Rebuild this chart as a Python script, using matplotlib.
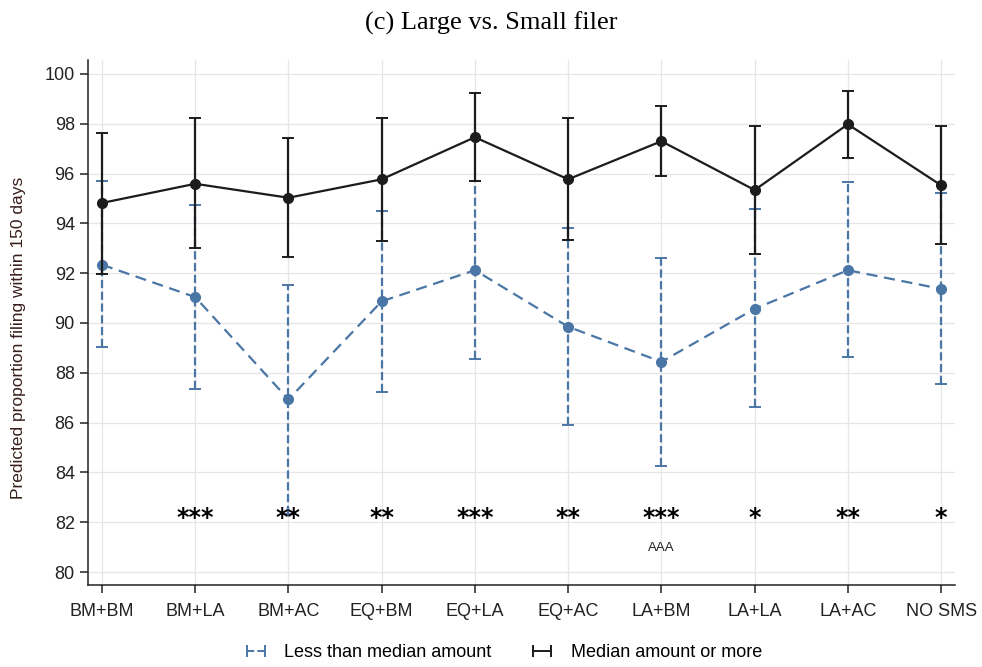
import matplotlib.pyplot as plt
from matplotlib.lines import Line2D

plt.rcParams['font.family'] = ['Liberation Sans', 'DejaVu Sans']

categories = ['BM+BM', 'BM+LA', 'BM+AC', 'EQ+BM', 'EQ+LA', 'EQ+AC', 'LA+BM', 'LA+LA', 'LA+AC', 'NO SMS']

# less than median amount (blue, dashed)
small_est = [92.34, 91.04, 86.93, 90.87, 92.12, 89.85, 88.44, 90.57, 92.12, 91.37]
small_lo = [89.05, 87.36, 82.32, 87.24, 88.54, 85.92, 84.27, 86.63, 88.62, 87.54]
small_hi = [95.69, 94.73, 91.54, 94.49, 95.69, 93.80, 92.60, 94.58, 95.65, 95.22]

# median amount or more (black, solid)
large_est = [94.82, 95.59, 95.03, 95.77, 97.46, 95.77, 97.30, 95.34, 97.98, 95.53]
large_lo = [91.98, 93.00, 92.64, 93.28, 95.69, 93.32, 95.89, 92.76, 96.64, 93.16]
large_hi = [97.64, 98.22, 97.44, 98.23, 99.22, 98.23, 98.71, 97.92, 99.30, 97.91]

stars = ['', '***', '**', '**', '***', '**', '***', '*', '**', '*']
extra = ['', '', '', '', '', '', 'AAA', '', '', '']

blue = '#4a76a6'
black = '#1c1c1c'

fig = plt.figure(figsize=(9.82, 6.67), dpi=100)
ax = fig.add_axes([0.0896, 0.123, 0.883, 0.787])

x = list(range(len(categories)))

eb = ax.errorbar(x, small_est,
                 yerr=[[e - l for e, l in zip(small_est, small_lo)],
                       [h - e for e, h in zip(small_est, small_hi)]],
                 color=blue, ls='--', lw=1.6, marker='o', ms=7,
                 capsize=4.5, capthick=1.4, elinewidth=1.6, zorder=3)
eb[2][0].set_linestyle('--')
eb[0].set_dashes([5, 3])

ax.errorbar(x, large_est,
            yerr=[[e - l for e, l in zip(large_est, large_lo)],
                  [h - e for e, h in zip(large_est, large_hi)]],
            color=black, ls='-', lw=1.6, marker='o', ms=7,
            capsize=4.5, capthick=1.4, elinewidth=1.6, zorder=4)

for i, s in enumerate(stars):
    if s:
        ax.text(i, 82.15, s, ha='center', va='center', fontsize=17, fontweight='bold',
                family='DejaVu Sans', color='black')
for i, s in enumerate(extra):
    if s:
        ax.text(i, 80.95, s, ha='center', va='center', fontsize=9.5, color='#222222')

ax.set_xlim(-0.15, 9.15)
ax.set_ylim(79.48, 100.56)
ax.set_yticks(range(80, 101, 2))
ax.set_xticks(x)
ax.set_xticklabels(categories)
ax.tick_params(axis='both', labelsize=13, length=6, width=1.1, colors='#222222')
ax.tick_params(axis='x', pad=7)
ax.grid(True, color='#e6e6e6', lw=0.9)
ax.set_axisbelow(True)
for side in ['top', 'right']:
    ax.spines[side].set_visible(False)
for side in ['left', 'bottom']:
    ax.spines[side].set_linewidth(1.1)
    ax.spines[side].set_color('#222222')

ax.set_ylabel('Predicted proportion filing within 150 days', fontsize=12.5, color='#3a1e1e')
ax.yaxis.set_label_coords(-0.0715, 0.47)

fig.suptitle('(c) Large vs. Small filer', fontsize=19, family='Liberation Serif', y=0.982)

handles = [Line2D([], [], color=blue, ls='--', lw=1.4, marker='|', ms=8, mew=1.4),
           Line2D([], [], color=black, ls='-', lw=1.4, marker='|', ms=8, mew=1.4)]
fig.legend(handles, ['Less than median amount', 'Median amount or more'],
           loc='center', bbox_to_anchor=(0.511, 0.021), ncol=2, frameon=False,
           numpoints=2, fontsize=13, handlelength=1.6, columnspacing=2.0)

fig.savefig('out.png', dpi=100)
